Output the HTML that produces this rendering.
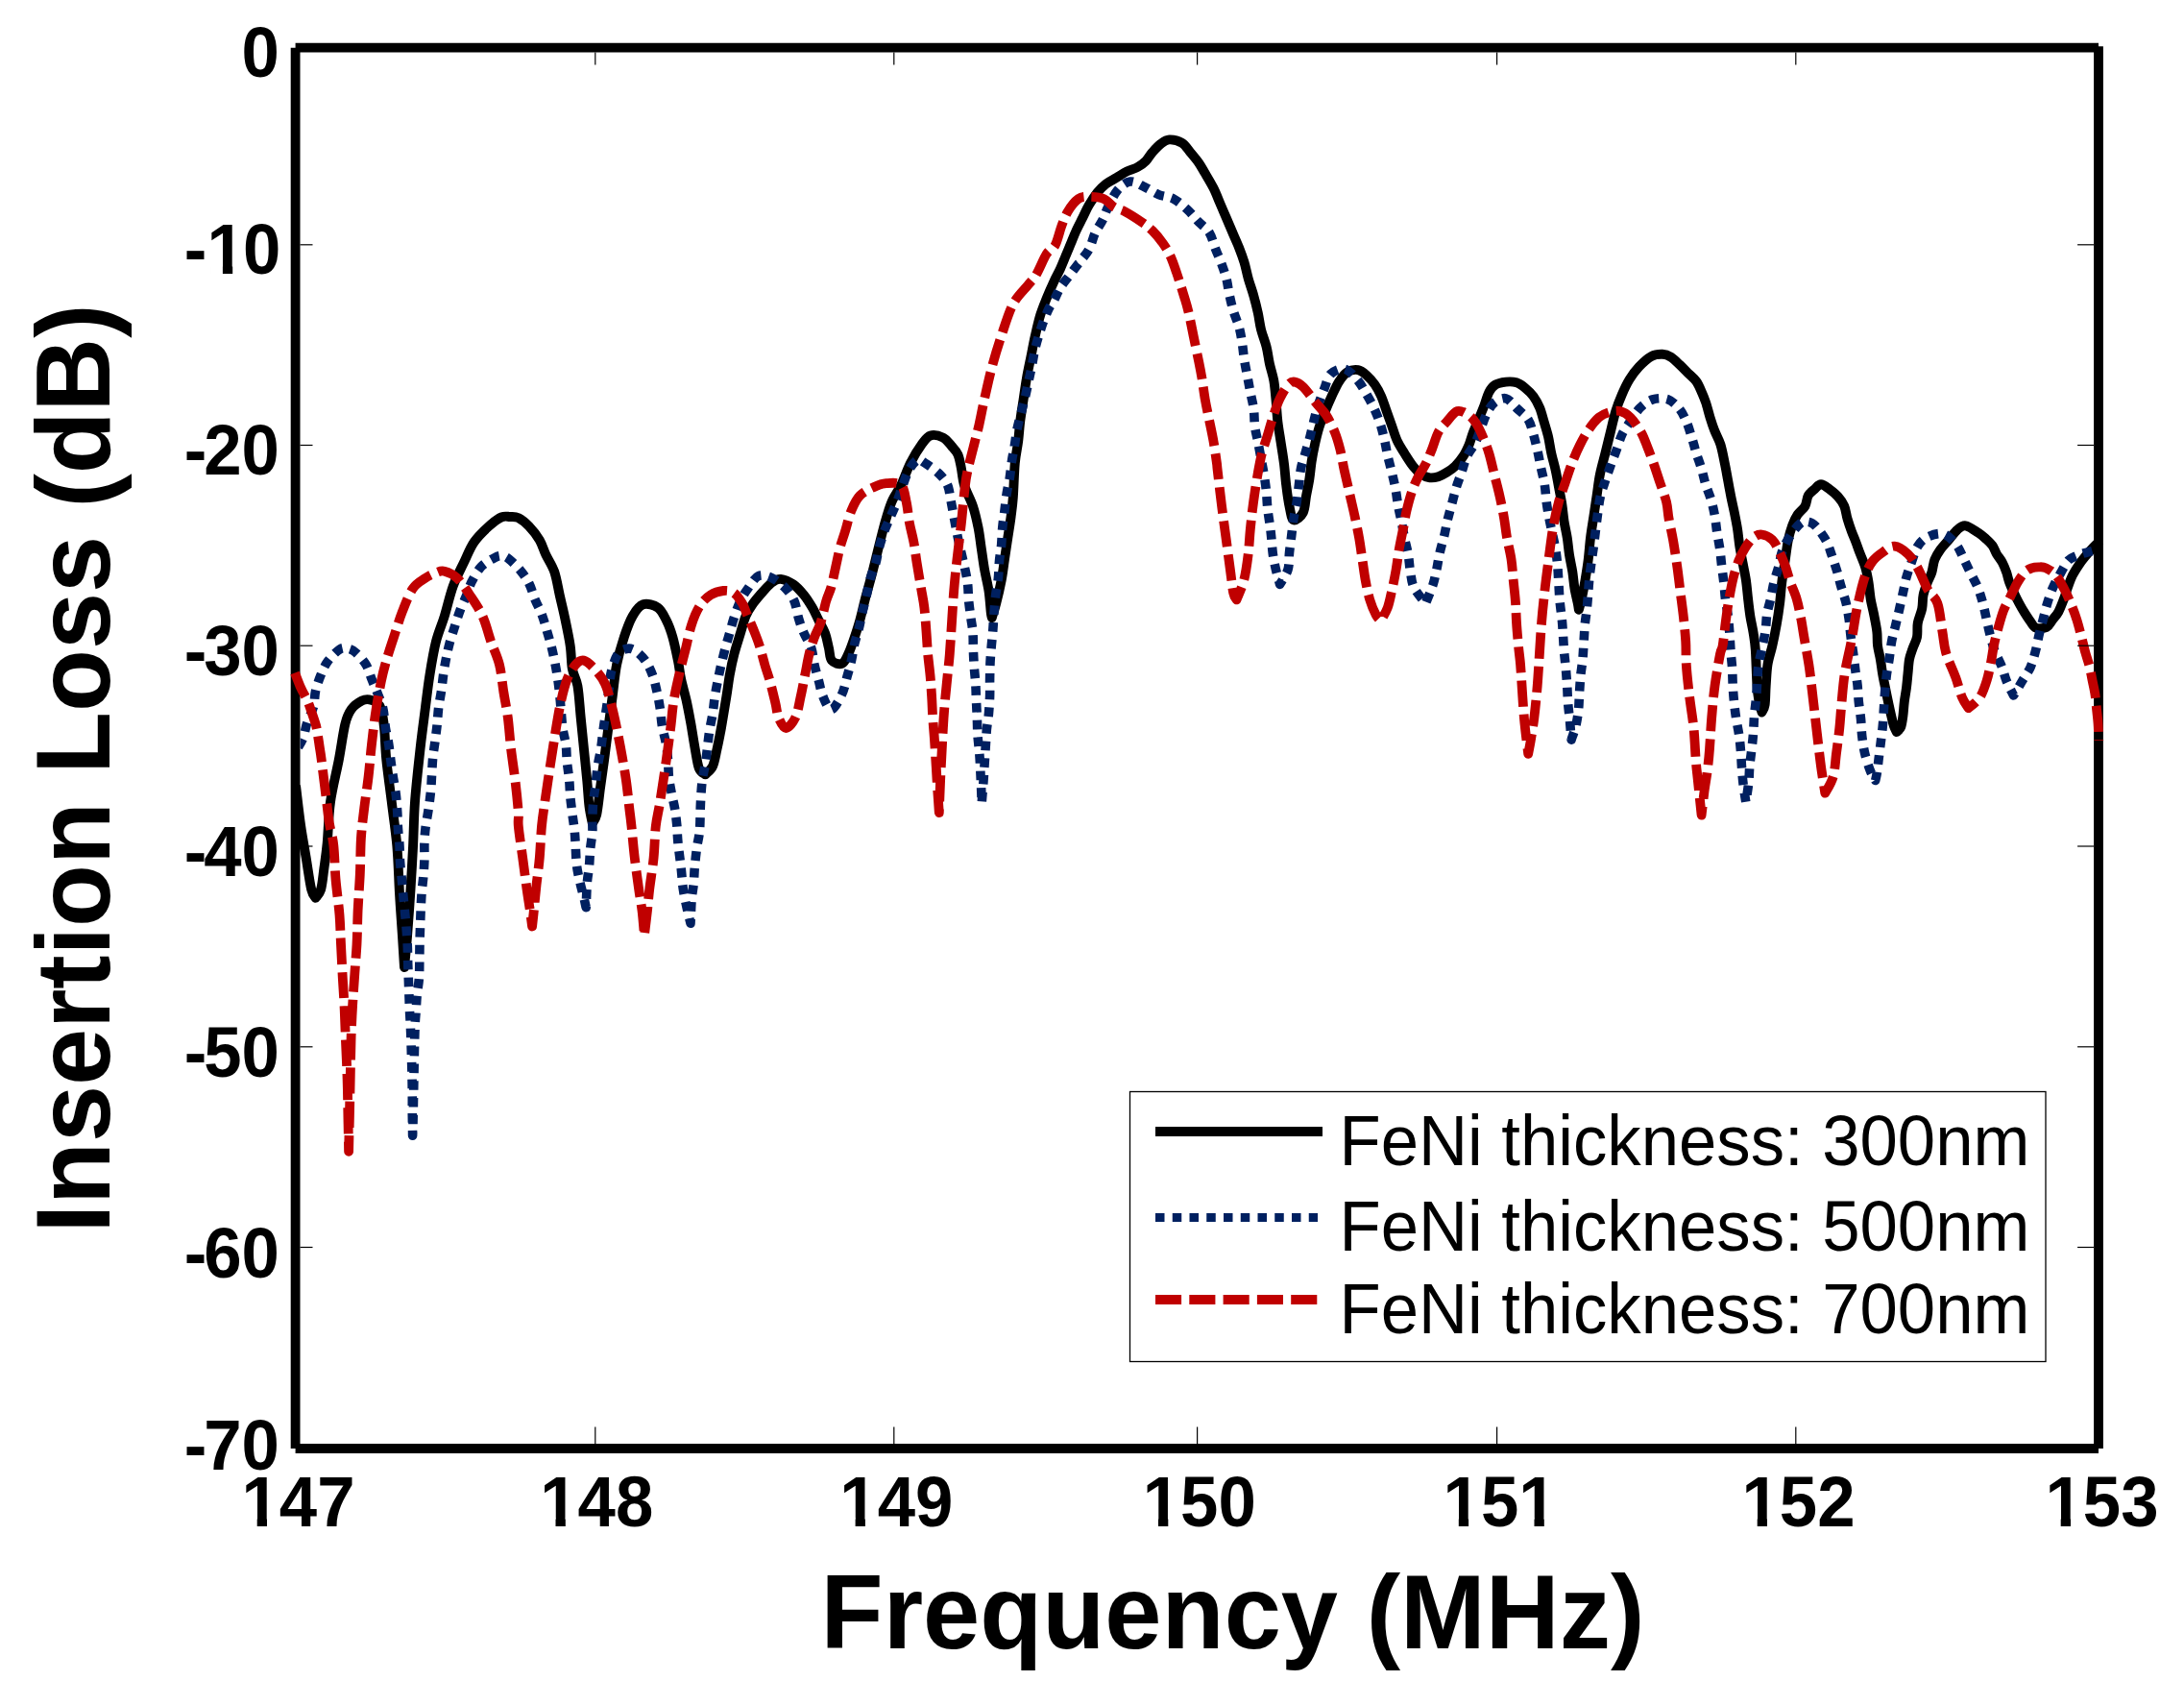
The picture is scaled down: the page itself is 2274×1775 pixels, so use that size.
<!DOCTYPE html>
<html><head><meta charset="utf-8"><title>Insertion Loss vs Frequency</title>
<style>html,body{margin:0;padding:0;background:#fff}body{width:2274px;height:1775px;overflow:hidden}svg{display:block}text{font-family:"Liberation Sans",Arial,Helvetica,sans-serif;fill:#000}.b{font-weight:bold}</style></head><body>
<svg width="2274" height="1775" viewBox="0 0 2274 1775">
<rect width="2274" height="1775" fill="#fff"/>
<g stroke="#000" stroke-width="9.8" fill="none">
<line x1="307.6" y1="49.7" x2="2185.0" y2="49.7"/>
<line x1="307.6" y1="1508.0" x2="2185.0" y2="1508.0"/>
<line x1="307.6" y1="49.7" x2="307.6" y2="1508.0"/>
<line x1="2185.0" y1="48.2" x2="2185.0" y2="1508.0"/>
</g>
<defs><clipPath id="pc"><rect x="312.7" y="60" width="1867.2" height="1440"/></clipPath></defs>
<g fill="none" stroke-linejoin="round">
<path d="M308.0 818.0C308.9 825.0 311.4 847.5 313.2 860.0C315.0 872.5 316.9 882.0 318.7 893.0C320.5 904.0 322.5 919.0 324.2 926.0C325.9 933.0 327.9 933.3 328.6 934.8L328.6 934.8C329.5 933.3 332.6 931.1 334.1 926.0C335.6 920.9 336.3 912.1 337.4 904.0C338.5 895.9 339.6 889.1 340.7 877.6C341.8 866.1 342.0 849.4 344.0 835.0C346.0 820.6 350.2 804.6 352.8 791.0C355.4 777.4 357.2 762.4 359.4 753.6C361.6 744.8 363.1 742.2 366.0 738.2C368.9 734.2 373.9 731.0 377.0 729.4C380.1 727.8 382.1 727.9 384.7 728.3C387.3 728.7 390.4 730.0 392.4 731.6C394.4 733.2 395.5 733.8 396.8 738.2C398.1 742.6 399.2 749.2 400.1 758.0C401.0 766.8 401.0 778.2 402.3 791.0C403.6 803.8 406.0 820.1 407.8 835.0C409.6 849.9 411.9 864.3 413.3 880.1C414.7 895.9 415.1 914.2 416.0 930.0C416.9 945.8 418.2 962.2 419.0 975.0C419.8 987.8 420.7 1001.7 421.0 1007.0L421.0 1007.0C421.5 1001.7 422.9 988.5 424.0 975.0C425.1 961.5 426.5 941.5 427.5 926.0C428.5 910.5 429.2 897.2 430.0 882.0C430.8 866.8 430.8 852.0 432.0 835.0C433.2 818.0 435.7 796.5 437.5 780.0C439.3 763.5 441.4 748.8 443.0 736.0C444.6 723.2 445.6 714.4 447.4 703.0C449.2 691.6 451.4 678.1 454.0 667.8C456.6 657.5 459.9 650.9 462.8 641.4C465.7 631.9 468.3 619.8 471.6 610.6C474.9 601.4 478.9 594.1 482.6 586.4C486.3 578.7 489.2 570.8 493.6 564.4C498.0 558.0 504.2 552.2 509.0 547.9C513.8 543.6 518.5 540.0 522.2 538.4C525.9 536.8 528.1 537.9 531.0 538.0C533.9 538.1 536.5 537.5 539.8 539.1C543.1 540.8 547.1 544.0 550.8 547.9C554.5 551.8 558.9 557.2 561.8 562.2C564.7 567.2 565.8 572.1 568.4 577.6C571.0 583.1 574.8 588.2 577.2 595.2C579.6 602.2 580.9 611.3 582.7 619.4C584.5 627.5 586.4 634.8 588.2 643.6C590.0 652.4 592.4 663.4 593.7 672.2C595.0 681.0 594.6 689.4 595.9 696.4C597.2 703.4 599.9 705.6 601.4 714.0C602.9 722.4 603.6 736.0 604.7 747.0C605.8 758.0 606.9 769.0 608.0 780.0C609.1 791.0 610.4 803.1 611.3 813.0C612.2 822.9 612.6 832.1 613.5 839.4C614.4 846.7 616.2 854.1 616.8 857.0L616.8 857.0C617.5 855.5 619.8 854.4 621.2 848.2C622.6 842.0 623.8 829.1 625.1 819.6C626.4 810.1 627.7 801.3 629.1 791.0C630.5 780.7 631.9 769.0 633.3 758.0C634.7 747.0 636.2 736.0 637.7 725.0C639.2 714.0 640.1 702.3 642.1 692.0C644.1 681.7 647.0 671.8 649.8 663.4C652.5 655.0 655.3 647.1 658.6 641.4C661.9 635.7 665.2 630.8 669.6 629.3C674.0 627.8 681.0 629.9 685.0 632.6C689.0 635.4 691.2 640.7 693.8 645.8C696.4 650.9 698.4 656.4 700.4 663.4C702.4 670.4 704.4 680.3 705.9 687.6C707.4 694.9 707.7 700.4 709.2 707.4C710.7 714.4 713.1 722.1 714.7 729.4C716.3 736.7 717.5 743.3 719.0 751.4C720.5 759.5 721.9 769.7 723.4 777.8C724.9 785.9 726.0 795.0 727.8 799.8C729.6 804.6 733.3 805.3 734.4 806.4L734.4 806.4C735.7 804.9 740.1 802.0 742.1 797.6C744.1 793.2 745.0 786.6 746.5 780.0C748.0 773.4 749.2 767.2 750.9 758.0C752.5 748.8 754.9 734.2 756.4 725.0C757.9 715.8 758.4 710.3 759.7 703.0C761.0 695.7 762.5 688.3 764.4 681.0C766.3 673.7 769.0 665.6 771.0 659.0C773.0 652.4 774.3 646.5 776.5 641.4C778.7 636.3 781.1 632.6 784.2 628.2C787.3 623.8 791.9 618.7 795.2 615.0C798.5 611.3 801.1 608.2 804.0 606.2C806.9 604.2 809.1 602.5 812.8 602.9C816.5 603.3 822.0 605.6 826.0 608.4C830.0 611.1 833.7 615.4 837.0 619.4C840.3 623.4 843.2 628.2 845.8 632.6C848.4 637.0 850.2 641.4 852.4 645.8C854.6 650.2 857.2 654.2 859.0 659.0C860.8 663.8 861.7 669.6 862.9 674.4C864.1 679.2 863.7 684.9 866.0 687.6C868.3 690.4 873.7 692.0 876.6 690.9C879.5 689.8 881.0 685.6 883.2 681.0C885.4 676.4 887.8 669.3 889.8 663.4C891.8 657.5 893.5 652.4 895.3 645.8C897.1 639.2 898.8 631.5 900.8 623.8C902.8 616.1 905.4 607.3 907.4 599.6C909.4 591.9 911.1 584.9 912.9 577.6C914.7 570.3 916.6 562.6 918.4 555.6C920.2 548.6 922.1 541.7 923.9 535.8C925.7 529.9 927.0 525.5 929.4 520.4C931.8 515.3 935.1 511.4 938.2 505.0C941.3 498.6 944.4 489.1 948.0 482.0C951.6 474.9 956.5 467.0 960.0 462.2C963.5 457.4 965.1 454.5 968.8 453.4C972.5 452.3 978.3 453.8 982.0 455.6C985.7 457.4 988.2 461.5 990.8 464.4C993.4 467.3 995.8 469.5 997.4 473.2C999.0 476.9 999.6 481.1 1000.7 486.4C1001.8 491.7 1002.0 498.3 1004.0 505.1C1006.0 511.9 1010.6 519.7 1013.0 527.0C1015.4 534.3 1017.0 541.7 1018.5 549.0C1020.0 556.3 1020.7 563.7 1021.8 571.0C1022.9 578.3 1023.8 585.7 1025.1 593.0C1026.4 600.3 1028.4 607.7 1029.5 615.0C1030.6 622.3 1031.2 632.3 1031.7 637.0C1032.2 641.7 1032.6 642.1 1032.8 643.1L1032.8 643.1C1033.5 640.6 1035.5 634.7 1037.2 628.2C1038.9 621.7 1041.2 611.7 1042.7 604.0C1044.2 596.3 1044.9 589.3 1046.0 582.0C1047.1 574.7 1048.2 567.3 1049.3 560.0C1050.4 552.7 1051.7 545.0 1052.6 538.0C1053.5 531.0 1054.1 527.5 1054.8 518.2C1055.5 508.9 1055.9 491.7 1056.8 482.0C1057.7 472.3 1059.2 467.3 1060.1 460.0C1061.0 452.7 1061.4 445.3 1062.3 438.0C1063.2 430.7 1064.5 423.3 1065.6 416.0C1066.7 408.7 1067.6 401.3 1068.9 394.0C1070.2 386.7 1071.8 379.3 1073.3 372.0C1074.8 364.7 1076.0 357.3 1077.7 350.0C1079.4 342.7 1081.2 334.6 1083.2 328.0C1085.2 321.4 1087.4 316.3 1089.8 310.4C1092.2 304.5 1095.1 297.9 1097.5 292.8C1099.9 287.7 1102.1 284.0 1104.1 279.6C1106.1 275.2 1107.8 270.8 1109.6 266.4C1111.4 262.0 1113.3 257.6 1115.1 253.2C1116.9 248.8 1118.6 244.4 1120.6 240.0C1122.6 235.6 1125.0 231.2 1127.2 226.8C1129.4 222.4 1131.2 218.0 1133.8 213.6C1136.4 209.2 1139.7 204.1 1142.6 200.4C1145.5 196.7 1148.1 194.2 1151.4 191.6C1154.7 189.0 1158.7 187.2 1162.4 185.0C1166.1 182.8 1169.7 180.2 1173.4 178.4C1177.1 176.6 1181.1 175.8 1184.4 174.0C1187.7 172.2 1190.6 170.0 1193.2 167.4C1195.8 164.8 1197.2 161.5 1199.8 158.6C1202.4 155.7 1205.7 152.0 1208.6 149.8C1211.5 147.6 1213.7 145.6 1217.4 145.4C1221.1 145.2 1226.9 146.5 1230.6 148.7C1234.3 150.9 1236.5 155.1 1239.4 158.6C1242.3 162.1 1245.6 165.9 1248.2 169.6C1250.8 173.3 1252.2 176.2 1254.8 180.6C1257.4 185.0 1261.0 190.9 1263.6 196.0C1266.2 201.1 1268.0 206.3 1270.2 211.4C1272.4 216.5 1274.6 221.7 1276.8 226.8C1279.0 231.9 1281.2 237.1 1283.4 242.2C1285.6 247.3 1288.0 252.5 1290.0 257.6C1292.0 262.7 1293.8 267.5 1295.5 273.0C1297.2 278.5 1298.2 284.7 1299.9 290.6C1301.6 296.5 1303.8 302.3 1305.4 308.2C1307.1 314.1 1308.5 319.9 1309.8 325.8C1311.1 331.7 1311.6 337.5 1313.1 343.4C1314.6 349.3 1317.1 355.1 1318.6 361.0C1320.1 366.9 1320.6 372.7 1321.9 378.6C1323.2 384.5 1325.2 390.0 1326.3 396.2C1327.4 402.4 1327.8 408.9 1328.5 416.0C1329.2 423.1 1329.5 431.5 1330.4 439.0C1331.3 446.5 1332.6 453.7 1333.7 461.0C1334.8 468.3 1336.1 475.7 1337.0 483.0C1337.9 490.3 1338.3 497.7 1339.2 505.0C1340.1 512.3 1341.2 521.0 1342.5 527.0C1343.8 533.0 1344.5 540.2 1346.9 541.3C1349.3 542.4 1354.6 537.8 1356.8 533.6C1359.0 529.4 1359.0 521.9 1360.1 516.0C1361.2 510.1 1362.5 504.3 1363.4 498.4C1364.3 492.5 1364.7 486.7 1365.6 480.8C1366.5 474.9 1367.6 469.1 1368.9 463.2C1370.2 457.3 1371.5 451.5 1373.3 445.6C1375.1 439.7 1377.7 433.5 1379.9 428.0C1382.1 422.5 1384.1 417.7 1386.5 412.6C1388.9 407.5 1391.5 401.4 1394.2 397.2C1397.0 393.0 1399.7 389.3 1403.0 387.3C1406.3 385.3 1410.7 384.6 1414.0 385.1C1417.3 385.7 1419.9 388.0 1422.8 390.6C1425.7 393.2 1429.0 396.8 1431.6 400.5C1434.2 404.2 1436.2 408.0 1438.2 412.6C1440.2 417.2 1441.9 422.9 1443.7 428.0C1445.5 433.1 1447.4 438.3 1449.2 443.4C1451.0 448.5 1452.5 454.0 1454.7 458.8C1456.9 463.6 1459.7 467.6 1462.4 472.0C1465.2 476.4 1468.3 481.5 1471.2 485.2C1474.1 488.9 1477.1 492.0 1480.0 494.0C1482.9 496.0 1485.9 496.9 1488.8 497.3C1491.7 497.7 1494.7 497.1 1497.6 496.2C1500.5 495.3 1503.5 493.6 1506.4 491.8C1509.3 490.0 1512.3 488.1 1515.2 485.2C1518.1 482.3 1521.6 477.9 1524.0 474.2C1526.4 470.5 1527.8 467.2 1529.5 463.2C1531.2 459.2 1532.2 454.4 1533.9 450.0C1535.6 445.6 1537.6 441.2 1539.4 436.8C1541.2 432.4 1543.1 428.4 1544.9 423.6C1546.7 418.8 1548.4 412.1 1550.4 408.2C1552.4 404.3 1554.1 402.3 1557.0 400.5C1559.9 398.7 1564.3 398.0 1568.0 397.6C1571.7 397.2 1575.7 397.3 1579.0 398.3C1582.3 399.3 1584.9 401.4 1587.8 403.8C1590.7 406.2 1594.0 409.1 1596.6 412.6C1599.2 416.1 1601.4 420.3 1603.2 424.7C1605.0 429.1 1606.1 434.1 1607.6 439.0C1609.1 443.9 1610.7 448.9 1612.0 454.4C1613.3 459.9 1614.0 466.1 1615.3 472.0C1616.6 477.9 1618.4 483.7 1619.7 489.6C1621.0 495.5 1621.9 501.3 1623.0 507.2C1624.1 513.1 1625.4 518.9 1626.3 524.8C1627.2 530.7 1627.6 536.5 1628.5 542.4C1629.4 548.3 1630.9 554.1 1631.8 560.0C1632.7 565.9 1633.1 571.7 1634.0 577.6C1634.9 583.5 1636.4 589.3 1637.3 595.2C1638.2 601.1 1638.6 607.3 1639.5 612.8C1640.4 618.3 1642.1 624.5 1642.8 628.2C1643.5 631.9 1643.7 633.7 1643.9 634.8L1643.9 634.8C1644.5 632.6 1646.1 626.7 1647.2 621.6C1648.3 616.5 1649.4 610.6 1650.5 604.0C1651.6 597.4 1652.9 589.3 1653.8 582.0C1654.7 574.7 1655.1 567.3 1656.0 560.0C1656.9 552.7 1658.2 545.3 1659.3 538.0C1660.4 530.7 1661.5 523.3 1662.6 516.0C1663.7 508.7 1664.4 501.3 1665.9 494.0C1667.4 486.7 1669.6 479.3 1671.4 472.0C1673.2 464.7 1675.0 457.3 1676.8 450.0C1678.6 442.7 1680.3 434.6 1682.3 428.0C1684.3 421.4 1686.5 415.9 1688.9 410.4C1691.3 404.9 1693.7 399.8 1696.6 395.0C1699.5 390.2 1702.7 385.8 1706.5 381.8C1710.3 377.8 1715.6 373.0 1719.7 370.8C1723.8 368.6 1727.7 368.7 1731.0 368.8C1734.3 368.9 1736.9 369.9 1739.8 371.7C1742.7 373.5 1745.7 376.6 1748.6 379.4C1751.5 382.1 1754.5 385.3 1757.4 388.2C1760.3 391.1 1763.8 393.7 1766.2 397.0C1768.6 400.3 1770.1 404.3 1771.7 408.0C1773.3 411.7 1774.6 414.6 1776.1 419.0C1777.6 423.4 1779.0 429.6 1780.5 434.4C1782.0 439.2 1783.1 442.8 1784.9 447.6C1786.7 452.4 1789.7 457.1 1791.5 463.0C1793.3 468.9 1794.6 476.6 1795.9 482.8C1797.2 489.0 1798.1 494.5 1799.2 500.4C1800.3 506.3 1801.4 512.5 1802.5 518.0C1803.6 523.5 1804.7 527.9 1805.8 533.4C1806.9 538.9 1808.2 545.1 1809.1 551.0C1810.0 556.9 1810.4 562.7 1811.3 568.6C1812.2 574.5 1813.5 580.3 1814.6 586.2C1815.7 592.1 1817.0 597.6 1817.9 603.8C1818.8 610.0 1819.4 617.4 1820.1 623.6C1820.8 629.8 1821.4 635.3 1822.3 641.2C1823.2 647.1 1824.7 652.9 1825.6 658.8C1826.5 664.7 1827.1 667.2 1827.8 676.4C1828.5 685.6 1828.8 704.8 1829.5 714.0C1830.2 723.2 1830.9 727.0 1831.7 731.6C1832.5 736.2 1834.0 739.9 1834.5 741.5L1834.5 741.5C1835.0 740.2 1836.9 738.4 1837.6 733.8C1838.3 729.2 1838.2 721.0 1838.7 714.0C1839.2 707.0 1839.4 698.8 1840.5 691.8C1841.6 684.8 1843.9 679.0 1845.4 672.0C1847.0 665.0 1848.5 657.3 1849.8 650.0C1851.1 642.7 1852.2 635.3 1853.1 628.0C1854.0 620.7 1854.4 613.3 1855.3 606.0C1856.2 598.7 1857.5 591.3 1858.6 584.0C1859.7 576.7 1860.6 568.2 1861.9 562.0C1863.2 555.8 1864.7 551.0 1866.3 546.6C1867.9 542.2 1869.6 538.9 1871.8 535.6C1874.0 532.3 1877.7 530.1 1879.5 526.8C1881.3 523.5 1881.1 518.7 1882.8 515.8C1884.5 512.9 1887.2 511.1 1889.4 509.2C1891.6 507.3 1893.4 504.3 1896.0 504.3C1898.6 504.3 1901.9 507.1 1904.8 509.2C1907.7 511.3 1911.0 514.0 1913.6 516.9C1916.2 519.8 1918.5 522.9 1920.2 526.8C1921.9 530.6 1922.2 535.6 1923.5 540.0C1924.8 544.4 1926.4 549.2 1927.9 553.2C1929.4 557.2 1930.8 560.4 1932.3 564.2C1933.8 568.1 1935.0 571.9 1936.7 576.3C1938.4 580.7 1940.7 585.6 1942.2 590.6C1943.7 595.6 1944.6 600.5 1945.5 606.0C1946.4 611.5 1946.8 618.1 1947.7 623.6C1948.6 629.1 1949.9 633.4 1951.0 639.0C1952.1 644.6 1953.6 651.8 1954.3 657.3C1955.0 662.8 1954.4 667.1 1955.0 672.0C1955.6 676.9 1957.1 681.7 1957.9 686.6C1958.8 691.5 1959.2 696.4 1960.1 701.3C1960.9 706.2 1962.0 711.1 1963.0 716.0C1964.0 720.9 1965.0 726.0 1966.0 730.6C1967.0 735.2 1967.9 739.6 1968.9 743.8C1969.9 747.9 1970.8 752.5 1971.8 755.5C1972.8 758.5 1974.3 761.0 1974.8 762.1L1974.8 762.1C1975.5 761.2 1978.1 759.8 1979.2 757.0C1980.3 754.2 1980.8 749.7 1981.4 745.3C1982.0 740.9 1982.2 735.5 1982.8 730.6C1983.4 725.7 1984.4 720.9 1985.0 716.0C1985.6 711.1 1986.0 706.2 1986.5 701.3C1987.0 696.4 1987.2 691.0 1988.0 686.6C1988.8 682.2 1990.3 678.8 1991.6 674.9C1992.9 671.0 1995.1 667.6 1996.0 663.2C1996.9 658.8 1995.9 653.4 1996.8 648.5C1997.7 643.6 2000.2 638.7 2001.2 633.8C2002.2 628.9 2001.6 623.8 2002.6 619.2C2003.6 614.6 2005.5 609.9 2007.0 606.0C2008.5 602.1 2010.2 599.6 2011.4 595.7C2012.6 591.8 2012.9 586.4 2014.4 582.5C2015.9 578.6 2017.8 575.7 2020.2 572.3C2022.6 568.9 2026.1 565.4 2029.0 562.0C2031.9 558.6 2034.9 554.2 2037.8 551.7C2040.7 549.2 2042.9 546.8 2046.6 547.3C2050.3 547.8 2056.4 552.5 2059.8 554.7C2063.2 556.9 2064.8 558.3 2067.2 560.5C2069.6 562.7 2072.6 565.2 2074.5 567.9C2076.4 570.6 2077.2 573.8 2078.9 576.7C2080.6 579.6 2083.1 582.3 2084.8 585.5C2086.5 588.7 2087.9 592.3 2089.1 595.7C2090.3 599.1 2090.8 602.3 2092.1 606.0C2093.4 609.7 2095.5 614.0 2097.2 617.7C2098.9 621.4 2100.5 624.6 2102.3 628.0C2104.1 631.4 2106.2 635.0 2108.2 638.2C2110.2 641.4 2112.1 644.4 2114.1 647.0C2116.1 649.6 2117.1 652.6 2119.9 653.6C2122.7 654.6 2128.1 654.2 2130.9 652.9C2133.7 651.6 2134.7 648.3 2136.8 645.6C2138.9 642.9 2141.4 640.5 2143.4 636.8C2145.4 633.1 2147.2 628.0 2148.9 623.6C2150.6 619.2 2151.8 614.4 2153.3 610.4C2154.8 606.4 2155.9 603.1 2157.7 599.4C2159.5 595.7 2162.1 591.7 2164.3 588.4C2166.5 585.1 2168.3 582.7 2170.9 579.6C2173.5 576.5 2177.1 572.5 2179.7 569.7C2182.3 567.0 2185.2 564.2 2186.3 563.1" stroke="#000" stroke-width="9.9"/>
<path d="M308.0 782.0C309.2 779.8 313.4 773.8 315.4 768.8C317.4 763.8 318.0 757.8 319.8 752.3C321.6 746.8 324.9 741.3 326.4 735.8C327.9 730.3 327.3 724.7 328.6 719.2C329.9 713.7 332.0 707.8 334.1 702.7C336.2 697.6 338.1 692.8 341.3 688.4C344.5 684.0 350.0 678.4 353.4 676.2C356.8 674.0 358.8 674.6 361.7 675.1C364.6 675.6 367.3 676.7 370.5 679.5C373.7 682.3 378.2 687.1 381.0 691.7C383.8 696.3 385.1 702.3 387.0 707.1C388.9 711.9 390.6 715.3 392.5 720.3C394.4 725.3 397.1 730.6 398.6 736.9C400.1 743.1 400.4 751.5 401.4 757.8C402.4 764.0 403.8 768.7 404.7 774.4C405.6 780.1 406.2 786.5 406.9 792.0C407.6 797.5 408.2 801.6 409.1 807.4C410.0 813.2 411.4 820.4 412.2 826.6C413.0 832.9 413.3 839.0 413.7 844.9C414.1 850.8 414.0 856.1 414.4 861.8C414.8 867.5 415.5 873.1 415.9 879.0C416.3 884.9 416.2 891.4 416.6 897.4C417.0 903.4 417.8 909.1 418.3 915.0C418.9 920.9 419.3 926.7 419.9 932.6C420.4 938.5 421.1 944.3 421.6 950.2C422.2 956.1 422.8 961.9 423.2 967.8C423.6 973.7 424.1 979.5 424.3 985.4C424.6 991.3 424.5 997.0 424.7 1003.0C424.9 1009.0 425.2 1015.8 425.4 1021.7C425.6 1027.6 425.8 1032.5 426.0 1038.2C426.2 1043.9 426.4 1049.9 426.7 1055.8C427.0 1061.7 427.4 1067.5 427.6 1073.4C427.9 1079.3 428.0 1085.1 428.2 1091.0C428.4 1096.9 428.5 1102.7 428.7 1108.6C428.9 1114.5 429.0 1120.3 429.1 1126.2C429.2 1132.1 429.3 1137.9 429.3 1143.8C429.3 1149.7 429.2 1155.0 429.3 1161.4C429.4 1167.8 429.6 1178.8 429.6 1182.3L429.6 1182.3C429.7 1178.8 430.0 1171.1 430.2 1161.4C430.4 1151.7 430.6 1139.0 430.9 1124.0C431.2 1109.0 431.6 1082.9 432.0 1071.2C432.4 1059.5 432.7 1059.5 433.1 1053.6C433.5 1047.7 433.6 1041.9 434.2 1036.0C434.8 1030.1 436.0 1024.3 436.4 1018.4C436.8 1012.5 436.7 1006.7 436.8 1000.8C436.9 994.9 436.9 989.1 437.0 983.2C437.1 977.3 437.3 971.5 437.5 965.6C437.7 959.7 437.9 953.9 438.1 948.0C438.4 942.1 438.6 936.3 439.0 930.4C439.4 924.5 440.3 918.7 440.8 912.8C441.3 906.9 441.7 901.1 441.9 895.2C442.1 889.3 441.7 883.1 441.9 877.6C442.1 872.1 442.3 868.2 443.0 862.2C443.7 856.2 445.4 848.0 446.3 841.6C447.2 835.2 447.9 829.9 448.5 824.0C449.1 818.1 449.2 812.3 449.6 806.4C450.0 800.5 450.1 794.5 450.7 788.8C451.2 783.1 452.2 778.0 452.9 772.3C453.6 766.6 454.5 760.6 455.1 754.7C455.7 748.8 455.9 743.0 456.6 737.1C457.3 731.2 458.6 725.4 459.5 719.5C460.4 713.6 460.9 707.6 461.7 701.9C462.5 696.2 463.4 690.9 464.5 685.4C465.6 679.9 466.8 674.6 468.3 668.9C469.9 663.2 472.0 657.0 473.8 651.3C475.6 645.6 477.3 640.1 479.3 634.8C481.3 629.5 483.9 624.3 485.9 619.4C487.9 614.5 488.8 610.0 491.4 605.1C494.0 600.2 497.4 593.7 501.3 589.7C505.2 585.7 511.0 582.7 514.5 580.9C518.0 579.1 519.6 578.5 522.2 578.7C524.8 578.9 526.6 579.4 529.9 582.0C533.2 584.6 538.5 589.9 542.0 594.1C545.5 598.3 548.2 602.2 550.8 607.3C553.4 612.4 555.2 619.6 557.4 624.9C559.6 630.2 562.0 633.9 564.0 639.2C566.0 644.5 567.9 651.3 569.5 656.8C571.1 662.3 572.5 666.9 573.9 672.2C575.2 677.5 576.5 683.2 577.6 688.7C578.7 694.2 579.6 699.5 580.5 705.2C581.4 710.9 582.1 716.9 582.7 722.8C583.3 728.7 583.7 734.3 584.2 740.4C584.8 746.5 585.1 753.2 586.0 759.1C586.9 765.0 588.6 769.9 589.3 775.6C590.0 781.3 589.8 787.3 590.4 793.2C591.0 799.1 592.0 804.9 592.6 810.8C593.2 816.7 593.2 822.3 593.7 828.4C594.2 834.5 595.2 841.2 595.9 847.1C596.6 853.0 597.5 858.3 598.1 863.6C598.7 868.9 598.8 873.0 599.2 879.0C599.6 885.0 599.6 893.2 600.3 899.6C601.0 906.0 602.3 911.3 603.6 917.2C604.9 923.1 606.9 930.2 608.0 934.8C609.1 939.4 609.8 943.1 610.2 944.7L610.2 944.7C610.4 940.5 610.8 926.5 611.3 919.4C611.8 912.2 613.0 907.7 613.5 901.8C614.0 895.9 614.1 890.1 614.6 884.2C615.1 878.3 616.4 872.1 616.8 866.6C617.2 861.1 616.6 857.1 616.8 851.5C617.0 845.9 617.3 838.5 617.9 832.8C618.5 827.1 619.4 823.3 620.1 817.4C620.8 811.5 621.4 803.8 622.3 797.6C623.2 791.4 624.7 785.9 625.6 780.0C626.5 774.1 627.1 767.9 627.8 762.4C628.5 756.9 629.2 752.5 630.0 747.0C630.8 741.5 631.9 734.9 632.6 729.4C633.3 723.9 633.7 719.1 634.4 714.0C635.1 708.9 635.1 704.1 636.6 698.6C638.1 693.1 640.6 684.9 643.2 681.0C645.8 677.1 649.1 676.2 652.0 675.5C654.9 674.8 657.5 675.0 660.8 677.0C664.1 679.0 668.7 683.3 671.8 687.6C674.9 691.9 677.5 697.7 679.5 703.0C681.5 708.3 682.6 713.8 683.9 719.5C685.2 725.2 686.3 731.1 687.2 737.1C688.1 743.1 688.4 749.8 689.4 755.8C690.4 761.8 692.3 767.5 693.3 773.4C694.3 779.3 695.0 785.1 695.5 791.0C696.0 796.9 695.8 802.7 696.4 808.6C697.0 814.5 698.3 820.7 699.3 826.2C700.3 831.7 701.7 836.1 702.6 841.6C703.5 847.1 704.2 853.3 704.8 859.2C705.3 865.1 705.2 869.3 705.9 876.8C706.6 884.3 708.3 895.8 709.2 904.0C710.1 912.2 710.3 918.7 711.4 926.0C712.5 933.3 714.5 942.1 715.8 948.0C717.1 953.9 718.5 959.0 719.0 961.2L719.0 961.2C719.2 957.2 719.6 944.0 720.1 937.0C720.6 930.0 721.8 925.3 722.3 919.4C722.8 913.5 722.8 908.0 723.4 901.8C724.0 895.6 724.8 888.2 725.6 882.0C726.5 875.8 727.9 871.9 728.5 864.4C729.1 856.9 729.0 845.8 729.4 837.2C729.8 828.6 730.3 820.0 731.1 813.0C731.9 806.0 733.5 801.3 734.4 795.4C735.3 789.5 735.9 783.7 736.6 777.8C737.3 771.9 737.9 766.1 738.8 760.2C739.7 754.3 741.2 748.5 742.1 742.6C743.0 736.7 743.4 730.9 744.3 725.0C745.2 719.1 746.5 712.9 747.6 707.4C748.7 701.9 749.6 697.5 750.9 692.0C752.2 686.5 753.8 679.9 755.3 674.4C756.8 668.9 758.2 664.1 759.7 659.0C761.2 653.9 762.3 649.1 764.1 643.6C765.9 638.1 768.3 631.1 770.7 626.0C773.1 620.9 775.5 617.2 778.7 612.8C781.9 608.4 785.5 601.4 789.7 599.6C793.9 597.8 799.2 599.6 804.0 601.8C808.8 604.0 814.4 608.8 818.3 612.8C822.1 616.8 824.9 620.9 827.1 626.0C829.3 631.1 829.9 638.1 831.5 643.6C833.1 649.1 834.8 653.9 837.0 659.0C839.2 664.1 842.9 668.9 844.7 674.4C846.5 679.9 846.7 686.3 848.0 692.0C849.3 697.7 850.9 703.0 852.4 708.5C853.9 714.0 854.6 720.0 856.8 725.0C859.0 730.0 862.3 739.0 865.6 738.6C868.9 738.2 873.9 728.5 876.6 722.8C879.4 717.0 880.5 710.0 882.1 704.1C883.8 698.2 885.2 693.3 886.5 687.6C887.8 681.9 888.5 675.5 889.8 670.0C891.1 664.5 892.9 659.7 894.2 654.6C895.5 649.5 896.2 644.7 897.5 639.2C898.8 633.7 900.4 627.8 901.9 621.6C903.4 615.4 904.6 607.7 906.3 601.8C907.9 595.9 910.3 591.5 911.8 586.4C913.3 581.3 913.6 576.5 915.1 571.0C916.6 565.5 918.6 558.9 920.6 553.4C922.6 547.9 925.0 543.1 927.2 538.0C929.4 532.9 931.8 527.7 933.8 522.6C935.8 517.5 937.3 512.6 939.3 507.2C941.3 501.8 943.4 494.7 946.0 490.0C948.6 485.3 952.2 480.3 955.0 479.0C957.8 477.7 959.2 479.7 963.0 482.0C966.8 484.3 973.7 489.2 977.6 493.0C981.5 496.8 984.6 500.4 986.6 505.0C988.6 509.6 988.8 514.9 989.9 520.4C991.0 525.9 992.1 532.1 993.2 538.0C994.3 543.9 995.4 550.1 996.5 555.6C997.6 561.1 998.5 565.3 999.8 571.0C1001.1 576.7 1002.9 583.7 1004.2 589.7C1005.5 595.8 1006.8 601.4 1007.5 607.3C1008.2 613.2 1008.1 619.0 1008.6 624.9C1009.1 630.8 1010.1 636.8 1010.8 642.5C1011.5 648.2 1012.6 653.3 1013.0 659.0C1013.4 664.7 1013.2 670.7 1013.4 676.6C1013.6 682.5 1013.9 688.3 1014.3 694.2C1014.7 700.1 1015.4 705.9 1015.8 711.8C1016.2 717.7 1016.2 723.3 1016.5 729.4C1016.8 735.5 1017.1 742.0 1017.4 748.1C1017.6 754.2 1017.6 760.0 1018.0 765.7C1018.4 771.4 1019.1 776.5 1019.6 782.2C1020.1 787.9 1020.4 793.9 1020.7 799.8C1021.0 805.7 1021.2 811.3 1021.5 817.4C1021.8 823.5 1022.1 833.0 1022.2 836.1L1022.2 836.1C1022.5 832.2 1023.5 819.8 1024.0 813.0C1024.5 806.2 1024.7 801.3 1025.1 795.4C1025.5 789.5 1025.8 783.7 1026.2 777.8C1026.6 771.9 1026.8 766.1 1027.3 760.2C1027.8 754.3 1029.0 748.5 1029.5 742.6C1030.0 736.7 1030.4 730.9 1030.6 725.0C1030.8 719.1 1030.5 713.3 1030.6 707.4C1030.7 701.5 1030.7 695.7 1031.0 689.8C1031.3 683.9 1031.8 678.1 1032.3 672.2C1032.8 666.3 1033.5 660.5 1033.9 654.6C1034.4 648.7 1034.5 642.9 1035.0 637.0C1035.5 631.1 1036.0 625.3 1036.7 619.4C1037.4 613.5 1038.8 607.7 1039.4 601.8C1040.0 595.9 1040.0 590.1 1040.5 584.2C1041.0 578.3 1042.2 572.5 1042.7 566.6C1043.2 560.7 1043.2 554.9 1043.8 549.0C1044.3 543.1 1045.3 537.3 1046.0 531.4C1046.7 525.5 1047.3 519.5 1048.2 513.8C1049.1 508.1 1050.4 503.1 1051.3 497.4C1052.2 491.7 1052.7 485.3 1053.5 479.8C1054.3 474.3 1055.4 469.9 1056.3 464.4C1057.2 458.9 1057.8 452.7 1059.0 446.8C1060.2 440.9 1061.9 435.1 1063.4 429.2C1064.9 423.3 1066.5 417.1 1067.8 411.6C1069.1 406.1 1070.0 401.3 1071.1 396.2C1072.2 391.1 1073.3 386.3 1074.4 380.8C1075.5 375.3 1076.4 368.7 1077.7 363.2C1079.0 357.7 1080.6 352.6 1082.1 347.8C1083.6 343.0 1084.8 339.0 1086.5 334.6C1088.2 330.2 1090.2 325.1 1092.0 321.4C1093.8 317.7 1095.5 316.3 1097.5 312.6C1099.5 308.9 1101.3 303.8 1104.1 299.4C1106.8 295.0 1110.7 290.6 1114.0 286.2C1117.3 281.8 1120.6 277.4 1123.9 273.0C1127.2 268.6 1131.0 264.9 1133.8 259.8C1136.5 254.7 1138.0 247.3 1140.4 242.2C1142.8 237.1 1145.9 233.4 1148.1 229.0C1150.3 224.6 1151.0 220.9 1153.6 215.8C1156.2 210.7 1159.7 202.7 1163.5 198.2C1167.3 193.7 1171.9 189.6 1176.7 189.0C1181.5 188.4 1187.1 192.6 1192.1 194.9C1197.0 197.2 1201.5 200.6 1206.4 202.6C1211.4 204.6 1216.8 204.4 1221.8 207.0C1226.8 209.6 1231.7 214.0 1236.1 218.0C1240.5 222.0 1244.3 227.2 1248.2 231.2C1252.1 235.2 1256.3 237.4 1259.2 242.2C1262.1 247.0 1263.8 254.7 1265.8 259.8C1267.8 264.9 1269.5 268.1 1271.3 273.0C1273.1 277.9 1275.3 283.8 1276.8 289.5C1278.3 295.2 1278.8 301.2 1280.1 307.1C1281.4 313.0 1282.8 319.2 1284.5 324.7C1286.2 330.2 1288.5 334.8 1290.0 340.1C1291.5 345.4 1292.4 350.9 1293.3 356.6C1294.2 362.3 1294.6 368.3 1295.5 374.2C1296.4 380.1 1297.7 385.9 1298.8 391.8C1299.9 397.7 1301.0 403.7 1302.1 409.4C1303.2 415.1 1304.7 420.2 1305.4 425.9C1306.1 431.6 1305.8 437.8 1306.5 443.5C1307.2 449.2 1308.7 454.3 1309.8 460.0C1310.9 465.7 1312.0 471.9 1313.1 477.6C1314.1 483.3 1315.2 488.3 1316.1 494.0C1317.0 499.7 1317.9 505.7 1318.5 511.6C1319.1 517.5 1319.2 523.3 1319.8 529.2C1320.4 535.1 1321.6 541.7 1322.3 546.8C1323.0 551.9 1323.3 555.0 1323.8 560.0C1324.3 565.0 1324.6 571.2 1325.3 576.5C1326.0 581.8 1327.0 586.6 1328.2 591.9C1329.4 597.2 1331.9 605.6 1332.6 608.4L1332.6 608.4C1334.0 605.8 1339.3 598.5 1341.0 593.0C1342.7 587.5 1341.9 581.3 1342.5 575.4C1343.1 569.5 1344.0 563.7 1344.7 557.8C1345.4 551.9 1346.0 546.1 1346.9 540.2C1347.8 534.3 1349.3 528.5 1350.2 522.6C1351.1 516.7 1351.7 510.9 1352.4 505.0C1353.1 499.1 1353.5 492.9 1354.6 487.4C1355.7 481.9 1357.5 477.3 1359.0 472.0C1360.5 466.7 1362.3 461.0 1363.8 455.5C1365.3 450.0 1366.4 444.5 1367.8 439.0C1369.2 433.5 1370.4 428.2 1372.2 422.5C1374.0 416.8 1376.6 410.4 1378.8 404.9C1381.0 399.4 1381.9 393.0 1385.4 389.5C1388.9 386.0 1395.1 383.1 1399.7 384.0C1404.3 384.9 1409.1 390.6 1412.9 395.0C1416.8 399.4 1419.9 405.4 1422.8 410.4C1425.7 415.3 1428.1 419.6 1430.5 424.7C1432.9 429.8 1435.3 435.7 1437.1 441.2C1438.9 446.7 1440.2 452.2 1441.5 457.7C1442.8 463.2 1443.5 468.5 1444.8 474.2C1446.1 479.9 1447.8 485.9 1449.2 491.8C1450.6 497.7 1452.0 503.5 1453.1 509.4C1454.2 515.3 1454.8 521.5 1455.8 527.0C1456.8 532.5 1458.0 536.9 1459.1 542.4C1460.2 547.9 1461.2 554.1 1462.4 560.0C1463.6 565.9 1465.3 571.7 1466.3 577.6C1467.3 583.5 1467.5 589.5 1468.5 595.2C1469.5 600.9 1469.6 606.2 1472.3 611.7C1475.0 617.2 1482.4 625.5 1484.4 628.2L1484.4 628.2C1485.7 624.9 1490.2 614.5 1492.1 608.4C1494.0 602.3 1494.8 597.4 1496.0 591.9C1497.2 586.4 1497.8 581.1 1499.1 575.4C1500.4 569.7 1502.3 563.7 1503.7 557.8C1505.1 551.9 1506.1 545.9 1507.5 540.2C1508.9 534.5 1510.4 529.2 1511.9 523.7C1513.4 518.2 1514.7 512.5 1516.3 507.2C1517.9 501.9 1520.0 497.1 1521.8 491.8C1523.6 486.5 1524.9 480.4 1527.3 475.3C1529.7 470.2 1533.6 465.9 1536.1 461.0C1538.5 456.1 1540.0 450.7 1542.0 445.6C1544.0 440.5 1545.9 434.6 1548.2 430.2C1550.5 425.8 1552.6 421.8 1555.9 419.2C1559.2 416.6 1564.2 413.9 1568.0 414.8C1571.8 415.7 1575.2 421.0 1579.0 424.7C1582.8 428.4 1588.2 432.2 1591.1 436.8C1594.0 441.4 1594.9 446.7 1596.6 452.2C1598.2 457.7 1599.7 464.1 1601.0 469.8C1602.3 475.5 1603.1 480.6 1604.3 486.3C1605.5 492.0 1607.2 497.8 1608.2 503.9C1609.2 509.9 1609.4 516.5 1610.2 522.6C1611.0 528.7 1612.1 534.7 1613.1 540.2C1614.1 545.7 1615.3 550.1 1616.4 555.6C1617.5 561.1 1619.0 567.3 1619.9 573.2C1620.8 579.1 1621.4 584.9 1621.9 590.8C1622.4 596.7 1622.6 602.5 1623.0 608.4C1623.4 614.3 1623.5 620.0 1624.1 626.0C1624.6 632.0 1625.7 638.8 1626.3 644.7C1626.9 650.6 1627.1 655.5 1627.5 661.2C1627.9 666.9 1628.1 672.9 1628.6 678.8C1629.1 684.7 1629.9 690.5 1630.4 696.4C1630.9 702.3 1631.3 708.1 1631.7 714.0C1632.1 719.9 1632.1 725.7 1632.6 731.6C1633.0 737.5 1633.8 742.8 1634.4 749.2C1635.0 755.6 1635.8 766.6 1636.1 770.1L1636.1 770.1C1636.9 767.5 1639.8 760.0 1641.0 754.7C1642.2 749.4 1643.0 743.7 1643.6 738.2C1644.2 732.7 1644.1 727.6 1644.5 721.7C1644.9 715.8 1645.2 709.0 1645.8 703.0C1646.4 697.0 1647.5 691.3 1648.0 685.4C1648.5 679.5 1648.7 673.7 1649.1 667.8C1649.5 661.9 1649.7 656.1 1650.2 650.2C1650.8 644.3 1651.8 638.7 1652.4 632.6C1653.0 626.5 1653.5 619.0 1653.9 613.9C1654.3 608.8 1654.4 606.8 1654.9 601.8C1655.4 596.8 1656.4 589.7 1657.1 584.2C1657.8 578.7 1658.6 574.3 1659.3 568.8C1660.0 563.3 1660.8 557.1 1661.5 551.2C1662.2 545.3 1662.9 539.5 1663.7 533.6C1664.5 527.7 1665.2 521.5 1666.5 516.0C1667.8 510.5 1669.7 505.7 1671.4 500.6C1673.1 495.5 1674.8 490.7 1676.8 485.2C1678.8 479.7 1681.4 473.1 1683.4 467.6C1685.4 462.1 1686.6 457.0 1688.9 452.2C1691.2 447.4 1694.2 443.6 1697.3 439.0C1700.4 434.4 1703.7 428.6 1707.6 424.7C1711.5 420.8 1716.0 417.4 1720.8 415.9C1725.6 414.4 1731.9 414.1 1736.5 415.7C1741.1 417.3 1745.3 421.6 1748.6 425.6C1751.9 429.6 1754.1 434.8 1756.3 439.9C1758.5 445.0 1760.1 451.1 1761.8 456.4C1763.5 461.7 1764.5 466.5 1766.2 471.8C1767.9 477.1 1770.1 482.8 1771.7 488.3C1773.3 493.8 1774.4 499.5 1776.1 504.8C1777.8 510.1 1780.0 514.7 1781.6 520.2C1783.2 525.7 1784.6 532.1 1785.6 537.8C1786.6 543.5 1786.9 548.6 1787.8 554.3C1788.7 560.0 1790.0 566.2 1790.8 571.9C1791.6 577.6 1791.9 582.7 1792.6 588.4C1793.3 594.1 1794.1 600.1 1794.8 606.0C1795.5 611.9 1795.8 617.9 1796.5 623.8C1797.2 629.7 1798.6 635.3 1799.3 641.4C1800.0 647.5 1800.5 654.0 1800.9 660.1C1801.4 666.2 1801.6 672.0 1802.0 677.7C1802.4 683.4 1803.1 688.3 1803.5 694.2C1803.9 700.1 1803.9 706.9 1804.2 712.9C1804.5 718.9 1804.9 724.6 1805.5 730.5C1806.1 736.4 1806.8 742.2 1807.7 748.1C1808.6 754.0 1810.0 760.0 1810.8 765.7C1811.6 771.4 1812.0 776.5 1812.5 782.2C1813.0 787.9 1813.1 793.9 1813.6 799.8C1814.0 805.7 1814.5 811.5 1815.2 817.4C1815.9 823.3 1817.4 832.1 1817.8 835.0L1817.8 835.0C1818.3 831.7 1820.0 821.4 1820.7 815.2C1821.4 809.0 1821.2 803.7 1821.8 797.6C1822.3 791.5 1823.3 785.0 1824.0 778.9C1824.7 772.8 1825.3 767.0 1825.7 761.3C1826.1 755.6 1826.1 750.3 1826.6 744.8C1827.0 739.3 1827.9 734.2 1828.4 728.3C1828.9 722.4 1829.3 715.6 1829.7 709.6C1830.1 703.6 1830.1 698.0 1831.0 692.0C1831.9 686.0 1833.8 679.3 1835.0 673.3C1836.2 667.2 1837.5 661.4 1838.3 655.7C1839.1 650.0 1838.9 644.7 1839.8 639.2C1840.7 633.7 1842.6 628.2 1843.8 622.7C1845.0 617.2 1845.7 611.7 1847.1 606.2C1848.5 600.7 1850.5 595.0 1852.0 589.5C1853.5 584.0 1853.9 578.3 1855.9 573.0C1857.9 567.7 1860.9 562.4 1864.1 557.6C1867.3 552.8 1872.0 546.8 1875.1 544.4C1878.2 542.0 1880.2 542.8 1882.8 543.3C1885.4 543.8 1887.4 544.4 1890.5 547.7C1893.6 551.0 1898.8 558.2 1901.5 563.1C1904.2 568.0 1905.2 572.3 1907.0 577.4C1908.8 582.5 1910.8 588.4 1912.5 593.9C1914.2 599.4 1915.3 604.9 1916.9 610.4C1918.5 615.9 1920.5 621.2 1921.9 626.9C1923.3 632.6 1924.4 639.0 1925.2 644.7C1926.0 650.4 1926.2 655.3 1926.9 661.2C1927.6 667.1 1928.8 673.9 1929.6 679.9C1930.4 685.9 1931.1 692.0 1931.8 697.5C1932.5 703.0 1933.4 707.4 1934.0 712.9C1934.6 718.4 1934.7 724.6 1935.3 730.5C1935.9 736.4 1936.9 742.1 1937.5 748.1C1938.1 754.1 1938.1 760.8 1938.8 766.8C1939.5 772.8 1940.3 778.5 1941.7 784.4C1943.1 790.3 1945.4 797.3 1947.2 802.0C1949.0 806.7 1951.8 810.8 1952.7 812.5L1952.7 812.5C1953.0 811.1 1953.9 807.8 1954.4 804.2C1955.0 800.6 1955.4 796.1 1956.0 791.0C1956.6 785.9 1957.5 779.4 1958.2 773.4C1958.9 767.4 1959.9 760.8 1960.4 754.7C1961.0 748.7 1961.1 742.8 1961.5 737.1C1961.9 731.4 1962.1 726.3 1962.6 720.6C1963.1 714.9 1963.6 708.7 1964.3 703.0C1965.0 697.3 1966.1 692.4 1967.0 686.5C1967.9 680.6 1968.5 673.7 1969.6 667.8C1970.7 661.9 1972.3 656.8 1973.6 651.3C1974.9 645.8 1976.2 640.5 1977.5 634.8C1978.8 629.1 1980.2 622.6 1981.4 617.0C1982.7 611.4 1983.5 606.1 1985.0 600.9C1986.5 595.6 1988.2 590.9 1990.2 585.5C1992.2 580.1 1994.0 573.0 1996.8 568.6C1999.6 564.2 2002.6 561.2 2007.0 559.1C2011.4 557.0 2018.3 554.6 2023.2 555.8C2028.1 557.0 2033.0 562.4 2036.4 566.4C2039.8 570.4 2041.3 574.8 2043.7 579.6C2046.1 584.4 2048.4 589.8 2051.0 595.0C2053.6 600.2 2056.9 605.9 2059.1 611.1C2061.3 616.4 2062.7 621.2 2064.2 626.5C2065.7 631.8 2066.6 636.7 2067.9 642.6C2069.2 648.5 2070.8 656.0 2072.3 661.7C2073.8 667.5 2074.8 671.9 2076.7 677.1C2078.6 682.4 2081.9 688.0 2084.0 693.2C2086.1 698.5 2087.0 703.5 2089.1 708.6C2091.2 713.7 2095.3 721.4 2096.5 724.0L2096.5 724.0C2098.0 721.6 2102.4 714.3 2105.3 709.4C2108.2 704.5 2111.8 699.8 2114.1 694.7C2116.4 689.6 2117.7 684.1 2119.2 678.6C2120.7 673.1 2121.6 667.3 2122.9 661.7C2124.2 656.1 2125.8 650.4 2127.3 644.8C2128.8 639.2 2130.0 633.5 2131.7 628.0C2133.4 622.5 2135.2 617.0 2137.5 611.8C2139.8 606.5 2142.9 601.2 2145.6 596.5C2148.3 591.8 2150.9 586.3 2153.7 583.3C2156.5 580.3 2159.8 579.6 2162.5 578.4C2165.2 577.2 2166.9 576.8 2169.8 575.9C2172.7 575.0 2177.2 573.8 2180.1 573.0C2183.0 572.2 2186.2 571.4 2187.4 571.1" stroke="#002060" stroke-width="9.6" stroke-dasharray="9.6 8.1" stroke-dashoffset="-5" clip-path="url(#pc)"/>
<path d="M307.0 700.5C307.9 702.8 310.9 710.8 312.5 714.5C314.1 718.2 315.1 719.7 316.5 722.5C317.9 725.3 319.5 728.0 320.9 731.4C322.3 734.8 323.6 739.0 325.0 743.0C326.4 747.0 328.1 751.8 329.1 755.6C330.1 759.4 330.4 762.3 331.0 766.0C331.6 769.7 332.2 773.9 332.8 778.0C333.4 782.1 333.6 782.1 334.7 790.9C335.8 799.7 338.2 819.6 339.6 830.6C341.0 841.6 341.6 848.8 342.9 857.0C344.2 865.2 346.2 870.1 347.3 879.8C348.4 889.5 348.5 902.9 349.5 915.0C350.5 927.1 352.6 941.0 353.5 952.4C354.4 963.8 354.4 972.2 355.0 983.2C355.6 994.2 356.2 1007.8 356.8 1018.4C357.4 1029.0 358.0 1036.7 358.5 1047.0C359.0 1057.3 359.3 1067.2 359.8 1080.0C360.3 1092.8 361.2 1109.3 361.6 1124.0C362.1 1138.7 362.2 1155.5 362.5 1168.0C362.8 1180.5 363.0 1193.7 363.1 1198.8L363.1 1198.8C363.2 1193.7 363.5 1180.5 363.8 1168.0C364.1 1155.5 364.4 1138.7 364.7 1124.0C365.0 1109.3 365.2 1092.8 365.6 1080.0C366.0 1067.2 366.5 1058.0 367.1 1047.0C367.7 1036.0 368.6 1024.6 369.3 1014.0C370.0 1003.4 370.9 994.2 371.5 983.2C372.1 972.2 372.1 960.1 372.6 948.0C373.2 935.9 374.2 923.1 374.8 910.6C375.4 898.1 375.2 884.7 375.9 873.2C376.6 861.7 377.9 852.4 379.2 841.6C380.5 830.8 382.3 819.6 383.6 808.6C384.9 797.6 385.6 787.0 386.9 775.6C388.2 764.2 389.6 751.4 391.3 740.4C393.0 729.4 395.0 718.4 396.8 709.6C398.6 700.8 400.1 695.3 402.3 687.6C404.5 679.9 407.2 671.8 410.0 663.4C412.8 655.0 415.5 645.4 418.8 637.0C422.1 628.6 425.8 618.7 429.8 612.8C433.8 606.9 439.0 604.5 443.0 601.8C447.0 599.0 450.7 597.5 454.0 596.3C457.3 595.1 459.1 593.8 462.8 594.7C466.5 595.6 471.6 597.7 476.0 601.8C480.4 605.9 484.8 612.8 489.2 619.4C493.6 626.0 498.7 633.3 502.4 641.4C506.1 649.5 508.3 659.4 511.2 667.8C514.1 676.2 517.8 683.2 520.0 692.0C522.2 700.8 522.9 711.4 524.4 720.6C525.9 729.8 527.5 737.1 528.8 747.0C530.1 756.9 530.8 769.0 532.1 780.0C533.4 791.0 535.2 802.0 536.5 813.0C537.8 824.0 539.2 838.2 539.8 846.0C540.3 853.8 539.1 852.2 539.8 860.0C540.5 867.8 542.7 882.0 544.2 893.0C545.7 904.0 547.3 916.8 548.6 926.0C549.9 935.2 551.0 941.6 551.9 948.0C552.8 954.4 553.7 961.8 554.1 964.5L554.1 964.5C554.5 961.0 555.6 950.8 556.3 943.6C557.0 936.5 557.6 930.0 558.5 921.6C559.4 913.2 560.9 903.3 561.8 893.0C562.7 882.7 563.1 869.7 564.0 860.0C564.9 850.3 565.8 845.4 567.3 835.0C568.8 824.6 571.0 809.7 572.8 797.6C574.6 785.5 576.5 773.4 578.3 762.4C580.1 751.4 581.8 740.8 583.8 731.6C585.8 722.4 587.8 714.0 590.4 707.4C593.0 700.8 596.3 695.3 599.2 692.0C602.1 688.7 604.7 686.9 608.0 687.6C611.3 688.3 615.3 692.4 619.0 696.4C622.7 700.4 627.1 705.6 630.0 711.8C632.9 718.0 634.6 726.1 636.6 733.8C638.6 741.5 640.3 749.2 642.1 758.0C643.9 766.8 646.0 777.4 647.6 786.6C649.2 795.8 650.7 803.8 652.0 813.0C653.3 822.2 654.4 833.8 655.3 841.6C656.2 849.4 656.6 851.4 657.5 860.0C658.4 868.6 659.5 882.0 660.8 893.0C662.1 904.0 663.9 916.8 665.2 926.0C666.5 935.2 667.5 940.0 668.5 948.0C669.5 956.0 670.5 969.6 670.9 973.9L670.9 973.9C671.4 969.6 673.1 956.0 674.0 948.0C674.9 940.0 675.1 935.2 676.2 926.0C677.3 916.8 679.5 904.0 680.6 893.0C681.7 882.0 681.7 869.7 682.8 860.0C683.9 850.3 685.4 846.5 687.2 835.0C689.0 823.5 692.0 803.8 693.8 791.0C695.6 778.2 696.9 768.3 698.2 758.0C699.5 747.7 700.0 738.6 701.5 729.4C703.0 720.2 705.0 711.8 707.0 703.0C709.0 694.2 711.4 685.4 713.6 676.6C715.8 667.8 717.6 657.9 720.1 650.2C722.6 642.5 725.6 635.5 728.9 630.4C732.2 625.3 735.9 622.0 739.9 619.4C743.9 616.8 749.1 615.4 753.1 615.0C757.1 614.6 760.8 615.0 764.1 617.2C767.4 619.4 770.6 624.5 772.9 628.2C775.1 631.9 775.7 634.8 777.6 639.2C779.5 643.6 782.0 649.1 784.2 654.6C786.4 660.1 788.8 666.0 790.8 672.2C792.8 678.4 794.5 685.8 796.3 692.0C798.1 698.2 800.0 703.0 801.8 709.6C803.6 716.2 805.8 725.4 807.3 731.6C808.8 737.8 808.8 742.6 810.6 747.0C812.4 751.4 815.4 758.0 818.3 758.0C821.2 758.0 825.6 752.5 828.2 747.0C830.8 741.5 832.1 732.3 833.7 725.0C835.4 717.7 836.6 710.3 838.1 703.0C839.6 695.7 840.9 687.6 842.5 681.0C844.1 674.4 846.0 668.9 848.0 663.4C850.0 657.9 852.6 654.2 854.6 648.0C856.6 641.8 858.3 632.2 860.1 626.0C861.9 619.8 864.0 616.5 865.6 610.6C867.2 604.7 868.5 597.4 870.0 590.8C871.5 584.2 872.8 577.2 874.4 571.0C876.0 564.8 877.9 560.0 879.9 553.4C881.9 546.8 883.9 537.6 886.5 531.4C889.1 525.2 891.4 520.0 895.3 516.0C899.1 512.0 905.0 509.3 909.6 507.2C914.2 505.1 918.0 503.6 922.8 503.2C927.6 502.8 934.7 501.8 938.2 505.0C941.7 508.2 942.2 516.0 943.7 522.6C945.2 529.2 945.7 537.6 947.0 544.6C948.3 551.6 950.1 557.4 951.4 564.4C952.7 571.4 953.4 578.3 954.7 586.4C956.0 594.5 957.8 605.1 959.1 612.8C960.4 620.5 961.5 624.9 962.4 632.6C963.3 640.3 964.0 650.9 964.6 659.0C965.2 667.1 965.5 673.7 966.1 681.0C966.8 688.3 967.8 695.7 968.5 703.0C969.2 710.3 969.6 717.7 970.1 725.0C970.6 732.3 970.7 739.7 971.2 747.0C971.7 754.3 972.4 761.7 972.9 769.0C973.4 776.3 973.8 783.7 974.3 791.0C974.8 798.3 975.0 803.8 975.6 813.0C976.2 822.2 977.4 840.5 977.8 846.0L977.8 846.0C978.0 840.5 978.7 822.2 979.1 813.0C979.5 803.8 979.8 798.3 980.2 791.0C980.6 783.7 980.9 776.3 981.3 769.0C981.7 761.7 982.1 754.3 982.6 747.0C983.1 739.7 983.7 732.3 984.4 725.0C985.1 717.7 985.9 710.3 986.6 703.0C987.3 695.7 988.1 690.2 988.8 681.0C989.5 671.8 990.3 659.0 991.0 648.0C991.7 637.0 992.3 626.0 993.2 615.0C994.1 604.0 995.2 593.7 996.5 582.0C997.8 570.3 999.6 556.3 1000.9 544.6C1002.2 532.9 1003.1 520.6 1004.2 511.6C1005.3 502.6 1005.3 500.1 1007.3 490.8C1009.3 481.5 1014.1 463.7 1016.1 455.6C1018.1 447.5 1017.9 449.0 1019.4 442.4C1020.9 435.8 1022.7 425.9 1024.9 416.0C1027.1 406.1 1029.7 394.0 1032.6 383.0C1035.5 372.0 1038.8 361.0 1042.5 350.0C1046.2 339.0 1050.0 325.8 1054.6 317.0C1059.2 308.2 1066.0 302.3 1070.0 297.2C1074.0 292.1 1075.5 291.7 1078.8 286.2C1082.1 280.7 1086.5 269.3 1089.8 264.2C1093.1 259.1 1096.0 260.2 1098.6 255.4C1101.2 250.6 1103.0 241.5 1105.2 235.6C1107.4 229.7 1108.9 225.0 1111.8 220.2C1114.7 215.4 1119.1 209.6 1122.8 207.0C1126.5 204.4 1129.4 204.8 1133.8 204.8C1138.2 204.8 1144.8 205.2 1149.2 207.0C1153.6 208.8 1156.5 213.6 1160.2 215.8C1163.9 218.0 1166.4 217.6 1171.2 220.2C1176.0 222.8 1184.0 227.9 1188.8 231.2C1193.6 234.5 1196.1 236.3 1199.8 240.0C1203.5 243.7 1207.7 248.8 1210.8 253.2C1213.9 257.6 1216.1 261.3 1218.5 266.4C1220.9 271.5 1222.7 277.0 1225.1 284.0C1227.5 291.0 1230.8 301.6 1232.8 308.2C1234.8 314.8 1235.5 316.6 1237.2 323.6C1238.9 330.6 1240.9 341.2 1242.7 350.0C1244.5 358.8 1246.7 369.1 1248.2 376.4C1249.7 383.7 1250.4 387.4 1251.5 394.0C1252.6 400.6 1253.5 408.7 1254.8 416.0C1256.1 423.3 1257.7 430.7 1259.2 438.0C1260.7 445.3 1262.3 452.7 1263.6 460.0C1264.9 467.3 1266.2 477.1 1266.9 482.0C1267.6 486.9 1266.8 482.1 1267.7 489.6C1268.6 497.1 1270.6 515.3 1272.1 527.0C1273.6 538.7 1275.0 549.0 1276.5 560.0C1278.0 571.0 1279.6 583.5 1280.9 593.0C1282.2 602.5 1283.1 612.0 1284.2 617.2C1285.3 622.4 1287.0 623.2 1287.5 624.4L1287.5 624.4C1288.8 621.0 1293.2 611.8 1295.2 604.0C1297.2 596.2 1298.5 586.4 1299.6 577.6C1300.7 568.8 1300.9 560.4 1301.8 551.2C1302.7 542.0 1303.8 532.1 1305.1 522.6C1306.4 513.1 1308.0 502.4 1309.5 494.0C1311.0 485.6 1312.2 478.6 1313.9 472.0C1315.6 465.4 1317.4 461.0 1319.4 454.4C1321.4 447.8 1323.8 439.0 1326.0 432.4C1328.2 425.8 1330.0 420.1 1332.6 414.8C1335.2 409.5 1338.8 403.4 1341.4 400.5C1344.0 397.6 1345.4 397.2 1348.0 397.6C1350.6 398.0 1353.1 399.1 1356.8 402.7C1360.5 406.3 1366.0 414.2 1370.0 419.2C1374.0 424.1 1377.7 427.3 1381.0 432.4C1384.3 437.5 1387.4 444.1 1389.8 450.0C1392.2 455.9 1393.6 461.0 1395.3 467.6C1397.0 474.2 1398.0 481.9 1399.7 489.6C1401.4 497.3 1403.4 505.7 1405.2 513.8C1407.0 521.9 1409.1 530.3 1410.7 538.0C1412.3 545.7 1413.8 552.7 1415.1 560.0C1416.4 567.3 1417.3 574.7 1418.4 582.0C1419.5 589.3 1420.4 597.0 1421.7 604.0C1423.0 611.0 1424.3 617.8 1426.1 623.8C1427.9 629.8 1430.8 636.6 1432.7 640.3C1434.6 644.0 1436.9 645.2 1437.7 646.2L1437.7 646.2C1438.9 643.9 1442.9 637.8 1444.8 632.6C1446.7 627.4 1447.7 621.6 1449.2 615.0C1450.7 608.4 1452.3 600.3 1453.6 593.0C1454.9 585.7 1455.6 578.3 1456.9 571.0C1458.2 563.7 1460.0 555.6 1461.3 549.0C1462.6 542.4 1463.1 537.6 1464.6 531.4C1466.1 525.2 1468.1 517.5 1470.1 511.6C1472.1 505.7 1474.3 501.0 1476.7 496.2C1479.1 491.4 1482.0 487.8 1484.4 483.0C1486.8 478.2 1488.8 473.1 1491.0 467.6C1493.2 462.1 1495.0 454.8 1497.6 450.0C1500.2 445.2 1503.1 442.7 1506.4 439.0C1509.7 435.3 1513.6 429.1 1517.4 428.0C1521.2 426.9 1526.2 430.2 1529.5 432.4C1532.8 434.6 1534.8 437.5 1537.2 441.2C1539.6 444.9 1541.6 449.3 1543.8 454.4C1546.0 459.5 1548.4 465.4 1550.4 472.0C1552.4 478.6 1554.1 486.7 1555.9 494.0C1557.7 501.3 1559.8 508.7 1561.4 516.0C1563.1 523.3 1564.5 530.7 1565.8 538.0C1567.1 545.3 1567.8 552.7 1569.1 560.0C1570.4 567.3 1572.4 574.7 1573.5 582.0C1574.6 589.3 1575.0 596.7 1575.7 604.0C1576.4 611.3 1577.4 618.7 1577.9 626.0C1578.5 633.3 1578.5 639.9 1579.0 648.0C1579.5 656.1 1580.5 667.1 1581.2 674.4C1581.9 681.7 1582.4 683.6 1583.1 692.0C1583.8 700.4 1584.6 714.7 1585.3 725.0C1586.0 735.3 1586.5 743.6 1587.5 753.6C1588.5 763.6 1590.6 779.6 1591.2 784.8L1591.2 784.8C1591.7 782.2 1593.1 775.3 1594.1 769.0C1595.1 762.7 1596.3 756.2 1597.4 747.0C1598.5 737.8 1599.8 725.0 1600.7 714.0C1601.6 703.0 1602.2 692.0 1602.9 681.0C1603.6 670.0 1604.2 659.0 1605.1 648.0C1606.0 637.0 1607.1 626.7 1608.4 615.0C1609.7 603.3 1611.6 589.0 1613.1 577.6C1614.6 566.2 1615.8 556.0 1617.5 546.8C1619.2 537.6 1621.0 529.9 1623.0 522.6C1625.0 515.3 1627.2 509.8 1629.6 502.8C1632.0 495.8 1634.7 487.4 1637.3 480.8C1639.9 474.2 1642.2 468.7 1645.0 463.2C1647.8 457.7 1650.5 452.6 1653.8 447.8C1657.1 443.0 1661.1 437.7 1664.8 434.6C1668.5 431.5 1672.1 430.2 1675.8 429.1C1679.5 428.0 1683.0 427.1 1686.7 428.0C1690.4 428.9 1694.0 430.9 1697.7 434.6C1701.4 438.3 1705.8 444.9 1708.7 450.0C1711.6 455.1 1713.1 459.9 1715.3 465.4C1717.5 470.9 1719.7 476.8 1721.9 483.0C1724.1 489.2 1726.3 496.2 1728.5 502.8C1730.7 509.4 1733.6 516.4 1735.1 522.6C1736.6 528.8 1736.4 533.4 1737.6 540.0C1738.8 546.6 1740.5 553.6 1742.0 562.0C1743.5 570.4 1745.1 581.4 1746.4 590.6C1747.7 599.8 1748.6 608.2 1749.7 617.0C1750.8 625.8 1752.1 635.0 1753.0 643.4C1753.9 651.8 1754.7 659.5 1755.2 667.6C1755.7 675.7 1755.2 682.4 1755.8 692.0C1756.4 701.6 1757.8 714.0 1759.1 725.0C1760.4 736.0 1762.4 747.0 1763.5 758.0C1764.6 769.0 1765.0 781.8 1765.7 791.0C1766.4 800.2 1766.9 803.4 1767.9 813.0C1768.9 822.6 1771.0 842.7 1771.6 848.6L1771.6 848.6C1772.1 844.5 1773.5 831.8 1774.5 824.0C1775.5 816.2 1776.9 809.3 1777.8 802.0C1778.7 794.7 1779.3 789.2 1780.0 780.0C1780.7 770.8 1781.3 758.0 1782.2 747.0C1783.1 736.0 1784.0 725.0 1785.5 714.0C1787.0 703.0 1789.6 688.0 1791.0 681.0C1792.4 674.0 1792.7 677.9 1793.7 672.0C1794.7 666.1 1795.9 653.7 1797.0 645.6C1798.1 637.5 1799.0 630.9 1800.3 623.6C1801.6 616.3 1803.0 608.2 1804.7 601.6C1806.4 595.0 1808.2 589.1 1810.2 584.0C1812.2 578.9 1814.2 574.8 1816.8 570.8C1819.4 566.8 1822.7 562.2 1825.6 559.8C1828.5 557.4 1831.1 556.1 1834.4 556.5C1837.7 556.9 1842.5 559.2 1845.4 562.0C1848.3 564.8 1849.8 568.6 1852.0 573.0C1854.2 577.4 1856.6 582.9 1858.6 588.4C1860.6 593.9 1862.1 600.1 1864.1 606.0C1866.1 611.9 1868.9 617.4 1870.7 623.6C1872.5 629.8 1873.8 636.8 1875.1 643.4C1876.4 650.0 1877.0 655.1 1878.4 663.2C1879.8 671.3 1882.0 682.8 1883.4 692.0C1884.8 701.2 1885.6 709.2 1886.7 718.4C1887.8 727.6 1888.9 737.5 1890.0 747.0C1891.1 756.5 1892.2 766.4 1893.3 775.6C1894.4 784.8 1895.4 793.6 1896.6 802.0C1897.8 810.4 1899.7 821.8 1900.3 825.7L1900.3 825.7C1901.7 822.9 1906.8 815.5 1908.7 808.6C1910.7 801.7 1910.9 792.8 1912.0 784.4C1913.1 776.0 1914.4 766.8 1915.3 758.0C1916.2 749.2 1916.6 741.1 1917.5 731.6C1918.4 722.1 1919.1 711.7 1920.8 700.8C1922.5 689.9 1925.8 677.5 1927.9 666.1C1930.1 654.7 1931.4 643.4 1933.7 632.4C1936.0 621.4 1939.1 608.2 1941.8 600.1C1944.5 592.0 1946.7 588.3 1949.9 584.0C1953.1 579.7 1957.1 577.1 1960.9 574.5C1964.7 571.9 1968.3 568.2 1972.6 568.6C1976.9 569.0 1982.5 572.9 1986.5 576.7C1990.5 580.5 1993.4 585.2 1996.8 591.3C2000.2 597.4 2003.6 607.2 2007.0 613.3C2010.4 619.4 2014.7 620.7 2017.3 628.0C2019.9 635.3 2020.9 648.8 2022.4 657.3C2023.9 665.8 2023.8 671.2 2026.1 679.3C2028.4 687.4 2033.6 697.9 2036.4 705.7C2039.2 713.5 2040.8 721.0 2043.0 726.2C2045.2 731.5 2048.5 735.4 2049.6 737.2L2049.6 737.2C2051.6 735.4 2058.1 731.0 2061.3 726.2C2064.5 721.4 2066.7 714.7 2068.6 708.6C2070.5 702.5 2071.8 695.7 2073.0 689.6C2074.2 683.5 2074.8 677.9 2076.0 672.0C2077.2 666.1 2078.7 660.5 2080.4 654.4C2082.1 648.3 2084.0 640.9 2086.2 635.3C2088.4 629.7 2091.1 625.5 2093.5 620.6C2095.9 615.7 2098.5 610.1 2100.9 606.0C2103.3 601.9 2105.8 598.2 2108.2 595.7C2110.6 593.2 2113.1 592.2 2115.5 591.3C2117.9 590.4 2120.5 590.3 2122.9 590.3C2125.3 590.3 2127.3 589.9 2130.2 591.3C2133.1 592.7 2137.3 595.0 2140.5 598.7C2143.7 602.4 2146.6 608.2 2149.3 613.3C2152.0 618.4 2154.4 624.0 2156.6 629.4C2158.8 634.8 2160.8 640.2 2162.5 645.6C2164.2 651.0 2165.4 656.1 2166.9 661.7C2168.4 667.3 2169.8 673.9 2171.3 679.3C2172.8 684.7 2174.5 689.1 2175.7 694.0C2176.9 698.9 2177.6 703.7 2178.6 708.6C2179.6 713.5 2180.8 718.4 2181.5 723.3C2182.2 728.2 2182.5 733.0 2183.0 737.9C2183.5 742.8 2184.1 747.1 2184.5 752.6C2184.9 758.1 2185.2 767.9 2185.3 770.9" stroke="#c00000" stroke-width="9.8" stroke-dasharray="27.2 8.1"/>
</g>
<g stroke="#000" stroke-width="1.2">
<line x1="312.5" y1="254.8" x2="325.5" y2="254.8"/>
<line x1="2163.1" y1="254.8" x2="2180.1" y2="254.8"/>
<line x1="312.5" y1="463.5" x2="325.5" y2="463.5"/>
<line x1="2163.1" y1="463.5" x2="2180.1" y2="463.5"/>
<line x1="312.5" y1="672.2" x2="325.5" y2="672.2"/>
<line x1="2163.1" y1="672.2" x2="2180.1" y2="672.2"/>
<line x1="312.5" y1="881.0" x2="325.5" y2="881.0"/>
<line x1="2163.1" y1="881.0" x2="2180.1" y2="881.0"/>
<line x1="312.5" y1="1089.8" x2="325.5" y2="1089.8"/>
<line x1="2163.1" y1="1089.8" x2="2180.1" y2="1089.8"/>
<line x1="312.5" y1="1298.5" x2="325.5" y2="1298.5"/>
<line x1="2163.1" y1="1298.5" x2="2180.1" y2="1298.5"/>
<line x1="619.8" y1="54.6" x2="619.8" y2="67.6"/>
<line x1="619.8" y1="1485.6" x2="619.8" y2="1503.1"/>
<line x1="930.8" y1="54.6" x2="930.8" y2="67.6"/>
<line x1="930.8" y1="1485.6" x2="930.8" y2="1503.1"/>
<line x1="1246.6" y1="54.6" x2="1246.6" y2="67.6"/>
<line x1="1246.6" y1="1485.6" x2="1246.6" y2="1503.1"/>
<line x1="1558.6" y1="54.6" x2="1558.6" y2="67.6"/>
<line x1="1558.6" y1="1485.6" x2="1558.6" y2="1503.1"/>
<line x1="1869.8" y1="54.6" x2="1869.8" y2="67.6"/>
<line x1="1869.8" y1="1485.6" x2="1869.8" y2="1503.1"/>
</g>
<text class="b" font-size="74.5" x="0.00" transform="translate(251.6 79.9) scale(0.9500 1)">0</text>
<text class="b" font-size="74.5" x="0.00 25.19 64.41" transform="translate(191.7 284.6) scale(0.9500 1)">-10</text>
<text class="b" font-size="74.5" x="0.00 21.61 63.04" transform="translate(191.7 493.7) scale(0.9500 1)">-20</text>
<text class="b" font-size="74.5" x="0.00 21.61 63.04" transform="translate(191.7 703.2) scale(0.9500 1)">-30</text>
<text class="b" font-size="74.5" x="0.00 21.61 63.04" transform="translate(191.7 912.0) scale(0.9500 1)">-40</text>
<text class="b" font-size="74.5" x="0.00 21.61 63.04" transform="translate(191.7 1120.8) scale(0.9500 1)">-50</text>
<text class="b" font-size="74.5" x="0.00 21.61 63.04" transform="translate(191.7 1329.5) scale(0.9500 1)">-60</text>
<text class="b" font-size="74.5" x="0.00 21.61 63.04" transform="translate(191.7 1529.8) scale(0.9500 1)">-70</text>
<text class="b" font-size="74.5" text-anchor="middle" transform="translate(310.5 1589.2) scale(0.9500 1)">147</text>
<text class="b" font-size="74.5" text-anchor="middle" transform="translate(621.3 1589.2) scale(0.9500 1)">148</text>
<text class="b" font-size="74.5" text-anchor="middle" transform="translate(933.4 1589.2) scale(0.9500 1)">149</text>
<text class="b" font-size="74.5" text-anchor="middle" transform="translate(1248.8 1589.2) scale(0.9500 1)">150</text>
<text class="b" font-size="74.5" text-anchor="middle" transform="translate(1561.6 1589.2) scale(0.9500 1)">151</text>
<text class="b" font-size="74.5" text-anchor="middle" transform="translate(1872.5 1589.2) scale(0.9500 1)">152</text>
<text class="b" font-size="74.5" text-anchor="middle" transform="translate(2188.5 1589.2) scale(0.9500 1)">153</text>
<rect x="219.1" y="275.8" width="12.8" height="10.3" fill="#fff"/>
<rect x="242.2" y="275.8" width="12.1" height="10.3" fill="#fff"/>
<rect x="254.9" y="1580.4" width="12.8" height="10.3" fill="#fff"/>
<rect x="278.0" y="1580.4" width="12.1" height="10.3" fill="#fff"/>
<rect x="565.7" y="1580.4" width="12.8" height="10.3" fill="#fff"/>
<rect x="588.8" y="1580.4" width="12.1" height="10.3" fill="#fff"/>
<rect x="877.8" y="1580.4" width="12.8" height="10.3" fill="#fff"/>
<rect x="900.9" y="1580.4" width="12.1" height="10.3" fill="#fff"/>
<rect x="1193.2" y="1580.4" width="12.8" height="10.3" fill="#fff"/>
<rect x="1216.3" y="1580.4" width="12.1" height="10.3" fill="#fff"/>
<rect x="1506.0" y="1580.4" width="12.8" height="10.3" fill="#fff"/>
<rect x="1529.1" y="1580.4" width="12.1" height="10.3" fill="#fff"/>
<rect x="1584.7" y="1580.4" width="12.8" height="10.3" fill="#fff"/>
<rect x="1607.8" y="1580.4" width="12.1" height="10.3" fill="#fff"/>
<rect x="1816.9" y="1580.4" width="12.8" height="10.3" fill="#fff"/>
<rect x="1840.0" y="1580.4" width="12.1" height="10.3" fill="#fff"/>
<rect x="2132.9" y="1580.4" width="12.8" height="10.3" fill="#fff"/>
<rect x="2156.0" y="1580.4" width="12.1" height="10.3" fill="#fff"/>
<text class="b" font-size="110.0" text-anchor="middle" transform="translate(1283.5 1716.0) scale(0.9680 1)">Frequency (MHz)</text>
<text class="b" font-size="110.0" text-anchor="middle" transform="translate(114.0 799.9) rotate(-90) scale(0.9650 1)">Insertion Loss (dB)</text>
<rect x="1176.5" y="1136.5" width="953.5" height="281" fill="#fff" stroke="#000" stroke-width="1.3"/>
<line x1="1203" y1="1178" x2="1377" y2="1178" stroke="#000" stroke-width="10"/>
<line x1="1203" y1="1267.6" x2="1372" y2="1267.6" stroke="#002060" stroke-width="9" stroke-dasharray="9.5 8.25"/>
<line x1="1203" y1="1353" x2="1372" y2="1353" stroke="#c00000" stroke-width="10" stroke-dasharray="27.1 8.2"/>
<text font-size="73.4" text-anchor="start" transform="translate(1394.5 1213.0) scale(0.9630 1)">FeNi thickness: 300nm</text>
<text font-size="73.4" text-anchor="start" transform="translate(1394.5 1301.5) scale(0.9630 1)">FeNi thickness: 500nm</text>
<text font-size="73.4" text-anchor="start" transform="translate(1394.5 1387.5) scale(0.9630 1)">FeNi thickness: 700nm</text>
</svg></body></html>
